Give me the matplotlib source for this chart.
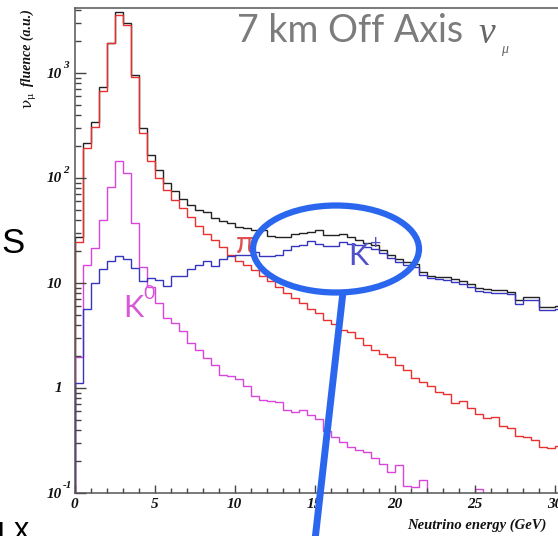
import numpy as np
import matplotlib
matplotlib.use("Agg")
import matplotlib.pyplot as plt
from matplotlib.patches import Ellipse
from matplotlib.lines import Line2D
from matplotlib.ticker import MultipleLocator, LogLocator, NullFormatter

# ---------------- data (neutrino fluence, a.u., 0.5 GeV bins) ----------------
bin_width = 0.5
n_bins = 64

total = [27.4, 215, 341, 736, 1930, 3810, 2990, 957, 299, 166,
         119, 89.6, 75.1, 63.1, 55.3, 49.6, 47.5, 41.6, 38.9, 37.3,
         34.1, 33.4, 32.0, 32.0, 28.1, 27.4, 27.4, 29.3, 29.9, 30.6,
         32.0, 28.7, 28.7, 29.3, 27.4, 25.7, 24.1, 23.0, 20.6, 18.5,
         16.9, 15.8, 15.2, 12.7, 11.7, 11.4, 11.4, 10.9, 10.4, 9.78,
         8.95, 8.76, 8.57, 8.57, 8.20, 6.89, 7.36, 7.36, 5.90, 5.90,
         6.04, 5.8, 5.5, 5.3]

pion = [24.5, 193, 306, 674, 1910, 3570, 2870, 916, 268, 145,
        100, 76.9, 61.7, 51.8, 42.5, 34.9, 29.3, 25.7, 22.0, 18.5,
        16.2, 14.8, 13.3, 11.7, 10.4, 9.16, 8.04, 7.20, 6.45, 5.65,
        5.18, 4.44, 4.07, 3.57, 3.41, 2.99, 2.57, 2.30, 2.11, 1.97,
        1.66, 1.48, 1.24, 1.14, 1.04, 0.916, 0.877, 0.719, 0.751, 0.645,
        0.565, 0.518, 0.530, 0.435, 0.416, 0.349, 0.341, 0.320, 0.274, 0.268,
        0.280, 0.26, 0.24, 0.23]

kaon_charged = [1.12, 5.65, 10.0, 13.6, 16.2, 18.1, 16.9, 13.9, 10.4, 11.2,
                10.7, 9.36, 11.7, 11.7, 13.6, 14.8, 16.2, 14.5, 16.9, 18.1,
                18.5, 18.5, 19.7, 18.1, 18.1, 18.5, 20.6, 22.5, 23.0, 25.1,
                23.5, 22.5, 22.5, 24.5, 23.5, 23.0, 22.0, 21.1, 19.3, 17.3,
                15.8, 14.8, 14.2, 11.9, 11.2, 10.9, 10.7, 10.2, 9.78, 9.16,
                8.39, 8.20, 8.04, 8.04, 7.85, 6.31, 6.89, 6.89, 5.53, 5.53,
                5.65, 5.4, 5.2, 5.0]

kaon_neutral = [1.97, 14.8, 21.5, 39.8, 82.1, 145, 112, 37.3, 14.2, 9.16,
                6.45, 4.64, 4.16, 3.49, 2.68, 2.30, 1.93, 1.66, 1.33, 1.30,
                1.22, 1.04, 0.839, 0.769, 0.751, 0.734, 0.617, 0.591, 0.617, 0.553,
                0.507, 0.389, 0.341, 0.306, 0.274, 0.257, 0.246, 0.215, 0.189, 0.158,
                0.185, 0.117, 0.114, 0.133, 0, 0, 0, 0, 0, 0,
                0.109, 0, 0, 0, 0, 0, 0, 0, 0, 0,
                0, 0, 0, 0]

x_ticks = [0, 5, 10, 15, 20, 25, 30]
x_tick_labels = ["0", "5", "10", "15", "20", "25", "30"]
y_decades = [0.1, 1, 10, 100, 1000]
y_bases = ["10", "1", "10", "10", "10"]
y_exps = ["-1", "", "", "2", "3"]

# ---------------- figure ----------------
W, H = 558, 536
fig = plt.figure(figsize=(W / 100, H / 100), dpi=100)
fx = lambda x: x / W
fy = lambda y: 1 - y / H

x0, x1 = 74.5, 74.5 + 16 * 32
y_top, y_bot = 8, 493
ax = fig.add_axes([fx(x0), fy(y_bot), (x1 - x0) / W, (y_bot - y_top) / H])
ax.set_yscale("log")
ax.set_xlim(0, 32)
ax.set_ylim(0.1, 10 ** (-1 + (y_bot - y_top) / 105.0))

edges = np.arange(n_bins + 1) * bin_width
floor = 1e-4
def clean(v):
    v = np.asarray(v, dtype=float)
    return np.where(v > 0, v, floor)

ax.stairs(clean(total), edges, baseline=floor, color="#222222", lw=1.0)
ax.stairs(clean(pion), edges, baseline=floor, color="#e8302e", lw=1.0)
ax.stairs(clean(kaon_neutral), edges, baseline=floor, color="#d945d9", lw=1.0)
ax.stairs(clean(kaon_charged), edges, baseline=floor, color="#3535c0", lw=1.0)

ax.spines["right"].set_visible(False)
for s in ["left", "bottom", "top"]:
    ax.spines[s].set_color("#555555")
    ax.spines[s].set_linewidth(1.1)

ax.xaxis.set_major_locator(MultipleLocator(5))
ax.xaxis.set_minor_locator(MultipleLocator(1))
ax.yaxis.set_major_locator(LogLocator(base=10))
ax.yaxis.set_minor_locator(LogLocator(base=10, subs=np.arange(2, 10)))
ax.yaxis.set_major_formatter(NullFormatter())
ax.yaxis.set_minor_formatter(NullFormatter())
ax.xaxis.set_major_formatter(NullFormatter())
ax.tick_params(axis="both", which="both", direction="in", color="#444444", width=1.0,
               top=False, right=False)
ax.tick_params(axis="x", which="major", length=6)
ax.tick_params(axis="x", which="minor", length=3.5)
ax.tick_params(axis="y", which="major", length=8)
ax.tick_params(axis="y", which="minor", length=4.5)

lab_font = dict(family="Liberation Serif", weight="bold", style="italic", color="#111111")

# x tick labels
for xv, lbl in zip(x_ticks, x_tick_labels):
    fig.text(fx(x0 + 16 * xv), fy(505), lbl, ha="center", va="center", fontsize=11, **lab_font)

# y tick labels
for yv, b, e in zip(y_decades, y_bases, y_exps):
    ypx = y_bot - 105 * (np.log10(yv) + 1)
    fig.text(fx(62), fy(ypx + 1), b, ha="right", va="center", fontsize=11, **lab_font)
    if e:
        fig.text(fx(63), fy(ypx - 8), e, ha="left", va="center", fontsize=8, **lab_font)

# axis titles
fig.text(fx(407), fy(525), "Neutrino energy (GeV)", ha="left", va="center", fontsize=10.5, **lab_font)
fig.text(fx(27), fy(9), "fluence (a.u.)", rotation=90, ha="center", va="top", fontsize=10, **lab_font)
fig.text(fx(27), fy(103), "\u03bd", rotation=90, ha="center", va="center", fontsize=11,
         family="DejaVu Serif", color="#111111")
fig.text(fx(31), fy(96), "\u03bc", rotation=90, ha="center", va="center", fontsize=7,
         family="DejaVu Serif", color="#111111")

# title
fig.text(fx(237), fy(42), "7 km Off Axis", ha="left", va="baseline", fontsize=27,
         family="Lato", weight="normal", color="#7c7c7c")
fig.text(fx(478), fy(43), "\u03bd", ha="left", va="baseline", fontsize=27,
         family="Liberation Serif", style="italic", color="#666666")
fig.text(fx(501), fy(53), "\u03bc", ha="left", va="baseline", fontsize=10,
         family="Liberation Serif", style="italic", color="#666666")

# curve labels
lbl_font = dict(family="Lato", weight="normal")
fig.text(fx(236), fy(253), "\u03c0", ha="left", va="baseline", fontsize=22,
         color="#e05050", **lbl_font)
fig.text(fx(348), fy(265), "K", ha="left", va="baseline", fontsize=22,
         color="#5050c8", **lbl_font)
fig.text(fx(370), fy(249), "+", ha="left", va="baseline", fontsize=14,
         color="#5050c8", **lbl_font)
fig.text(fx(123), fy(317), "K", ha="left", va="baseline", fontsize=22,
         color="#d858d8", **lbl_font)
fig.text(fx(143), fy(299), "0", ha="left", va="baseline", fontsize=14,
         color="#d858d8", **lbl_font)

# slide overlay text fragments
fig.text(fx(1), fy(243), "S", ha="left", va="center", fontsize=25,
         family="Liberation Sans", color="black")
fig.text(fx(29), fy(539), "x", ha="right", va="baseline", fontsize=22,
         family="Liberation Sans", color="black")
fig.text(fx(-4), fy(539), "\u0131", ha="left", va="baseline", fontsize=22,
         family="Liberation Sans", color="black")

# blue highlight ellipse + pointer line
blue = "#2a66ee"
ell = Ellipse((fx(336), fy(249)), 166 / W, 87 / H, transform=fig.transFigure,
              fill=False, edgecolor=blue, lw=4.5, zorder=10)
fig.add_artist(ell)
fig.add_artist(Line2D([fx(343), fx(315)], [fy(292), fy(540)], transform=fig.transFigure,
                      color=blue, lw=5, solid_capstyle="butt", zorder=10))

fig.savefig("out.png", dpi=100, facecolor="white")
